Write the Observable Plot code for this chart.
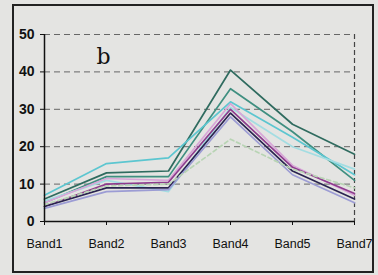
<!DOCTYPE html>
<html><head><meta charset="utf-8">
<script src="https://cdn.jsdelivr.net/npm/d3@7"></script>
<script src="https://cdn.jsdelivr.net/npm/@observablehq/plot@0.6"></script>
<style>
body{margin:0;background:#e4e4e2;}
#wrap{position:relative;width:378px;height:275px;}
#frame{position:absolute;left:12px;top:4px;width:358px;height:265px;border:2px solid #222;pointer-events:none;}
</style></head>
<body><div id="wrap"><div id="frame"></div></div>
<script>
const bands = ["Band1","Band2","Band3","Band4","Band5","Band7"];
const yTicks = [0,10,20,30,40,50];
const seriesNames = ["s1","s2","s3","s4","s5","s6","s7","s8","s9"];
const seriesColors = ["#2f6b5f","#3f8f80","#5cc6d0","#a3dde2","#d8a6d8","#8e3c8e","#2a2450","#9c9cd4","#b8d4b4"];
const seriesDash = [null,null,null,null,null,null,null,null,"4,3"];
const s1 = [6, 13, 13.5, 40.5, 26, 18];
const s2 = [5, 12, 12, 35.5, 24, 11];
const s3 = [7, 15.5, 17, 32, 22.5, 12.5];
const s4 = [5.5, 11, 8, 30.5, 20, 14];
const s5 = [5, 11.5, 11, 31.5, 15, 7];
const s6 = [4, 10, 10.5, 30, 14.5, 7.5];
const s7 = [4, 9, 9, 29, 13.5, 6];
const s8 = [3.5, 8, 8.5, 28, 12.5, 5];
const s9 = [4.5, 9.5, 10, 22, 14, 9];
const allSeries = [s1,s2,s3,s4,s5,s6,s7,s8,s9];

const rows = [];
allSeries.forEach((vals,i)=>vals.forEach((v,j)=>rows.push({series:seriesNames[i], band:bands[j], value:v, idx:i})));

const marks = [
  Plot.ruleY(yTicks.filter(d=>d>0), {stroke:"#666", strokeDasharray:"6,4", strokeWidth:1}),
  Plot.ruleX([bands[bands.length-1]], {stroke:"#444", strokeDasharray:"5,3", strokeWidth:1.2}),
];
seriesNames.forEach((name,i)=>{
  marks.push(Plot.line(rows.filter(r=>r.series===name), {x:"band", y:"value", stroke:seriesColors[i], strokeWidth:1.7, strokeDasharray:seriesDash[i]}));
});
marks.push(Plot.ruleY([0], {stroke:"#111", strokeWidth:1.5}));
marks.push(Plot.ruleX([bands[0]], {stroke:"#111", strokeWidth:1.5}));
marks.push(Plot.axisY({ticks:yTicks, tickSize:4, tickPadding:6, fontSize:14, fontWeight:"bold", anchor:"left"}));
marks.push(Plot.axisX({tickSize:4, tickPadding:14, fontSize:12.5, anchor:"bottom"}));
marks.push(Plot.text(["b"], {frameAnchor:"top-left", dx:52, dy:14, fontSize:22, fontFamily:"DejaVu Serif, serif", fill:"#111"}));

const chart = Plot.plot({
  width:378, height:275,
  marginLeft:44, marginRight:24, marginTop:34, marginBottom:54,
  style:{background:"transparent", fontFamily:"Liberation Sans, Arial, sans-serif", color:"#111"},
  x:{type:"point", domain:bands, padding:0, label:null},
  y:{domain:[0,50], label:null},
  marks
});
document.getElementById("wrap").prepend(chart);
</script></body></html>
